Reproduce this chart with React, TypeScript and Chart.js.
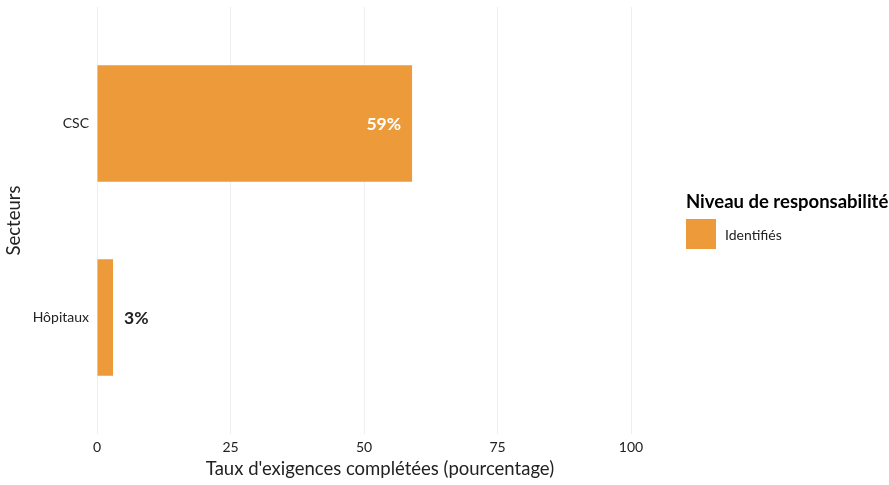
import React, { useEffect, useRef } from "react";
import { Chart, registerables } from "chart.js";

Chart.register(...registerables);

const sectors = ["CSC", "Hôpitaux"];
const rates = [59, 3];
const valueLabels = ["59%", "3%"];
const xTicks = [0, 25, 50, 75, 100];
const seriesName = "Identifiés";
const legendTitle = "Niveau de responsabilité";
const xTitle = "Taux d'exigences complétées (pourcentage)";
const yTitle = "Secteurs";

const ORANGE = "#EC9A3A";
const FONT = "Lato, 'Noto Sans', sans-serif";
const TEXT = "#222222";

const labelPlugin = {
  id: "valueLabels",
  afterDatasetsDraw(chart: any) {
    const ctx = chart.ctx;
    const meta = chart.getDatasetMeta(0);
    ctx.save();
    ctx.font = `bold 17.5px ${FONT}`;
    ctx.textBaseline = "middle";
    meta.data.forEach((bar: any, i: number) => {
      const v = rates[i];
      if (v > 20) {
        ctx.fillStyle = "#ffffff";
        ctx.textAlign = "right";
        ctx.fillText(valueLabels[i], bar.x - 11, bar.y + 1);
      } else {
        ctx.fillStyle = TEXT;
        ctx.textAlign = "left";
        ctx.fillText(valueLabels[i], bar.x + 11, bar.y + 1);
      }
    });
    ctx.restore();
  },
};

const legendPlugin = {
  id: "customLegend",
  afterDraw(chart: any) {
    const ctx = chart.ctx;
    const area = chart.chartArea;
    const x0 = area.right + 55;
    ctx.save();
    ctx.fillStyle = "#000000";
    ctx.font = `bold 18.5px ${FONT}`;
    ctx.textAlign = "left";
    ctx.textBaseline = "middle";
    ctx.fillText(legendTitle, x0, 202);
    ctx.fillStyle = ORANGE;
    ctx.fillRect(x0, 219, 30, 30);
    ctx.fillStyle = TEXT;
    ctx.font = `14px ${FONT}`;
    ctx.fillText(seriesName, x0 + 39, 235);
    // x axis title
    ctx.font = `18.5px ${FONT}`;
    ctx.textAlign = "center";
    ctx.fillText(xTitle, (area.left + area.right) / 2 + 16, 469);
    ctx.restore();
  },
};

export default function App() {
  const ref = useRef<HTMLCanvasElement>(null);
  useEffect(() => {
    const canvas = ref.current!;
    const chart = new Chart(canvas, {
      type: "bar",
      data: {
        datasets: [
          {
            label: seriesName,
            data: rates.map((v, i) => ({ x: v, y: i })),
            backgroundColor: ORANGE,
            borderWidth: 0,
            barPercentage: 0.6,
            categoryPercentage: 1,
          },
        ],
      },
      options: {
        indexAxis: "y",
        responsive: false,
        animation: false,
        layout: { padding: { top: 7, right: 258, left: 0, bottom: 0 } },
        plugins: { legend: { display: false }, tooltip: { enabled: false } },
        scales: {
          x: {
            type: "linear",
            min: 0,
            max: 100,
            afterBuildTicks: (s: any) => {
              s.ticks = xTicks.map((v) => ({ value: v }));
            },
            afterFit: (s: any) => {
              s.height = 51;
              s.paddingLeft = 0;
              s.paddingRight = 0;
            },
            grid: { color: "#efefef", lineWidth: 1, drawTicks: false },
            border: { display: false },
            ticks: {
              color: TEXT,
              font: { family: FONT, size: 14 },
              padding: 5,
            },
            title: { display: false },
          },
          y: {
            type: "linear",
            offset: false,
            min: -0.6,
            max: 1.6,
            reverse: true,
            afterBuildTicks: (s: any) => {
              s.ticks = sectors.map((_, i) => ({ value: i }));
            },
            afterFit: (s: any) => {
              s.width = 97;
              s.paddingTop = 0;
              s.paddingBottom = 0;
            },
            grid: { display: false, drawTicks: false },
            border: { display: false },
            ticks: {
              color: TEXT,
              font: { family: FONT, size: 14 },
              padding: 8,
              callback: (v: any) => sectors[Math.round(Number(v))] ?? "",
            },
            title: {
              display: true,
              text: yTitle,
              color: TEXT,
              font: { family: FONT, size: 18.5 },
              padding: 3,
            },
          },
        },
      },
      plugins: [labelPlugin, legendPlugin],
    } as any);
    return () => chart.destroy();
  }, []);
  return (
    <div style={{ position: "fixed", left: 0, top: 0, width: 889, height: 485, background: "#fff" }}>
      <canvas ref={ref} width={889} height={485} style={{ width: 889, height: 485 }} />
    </div>
  );
}
